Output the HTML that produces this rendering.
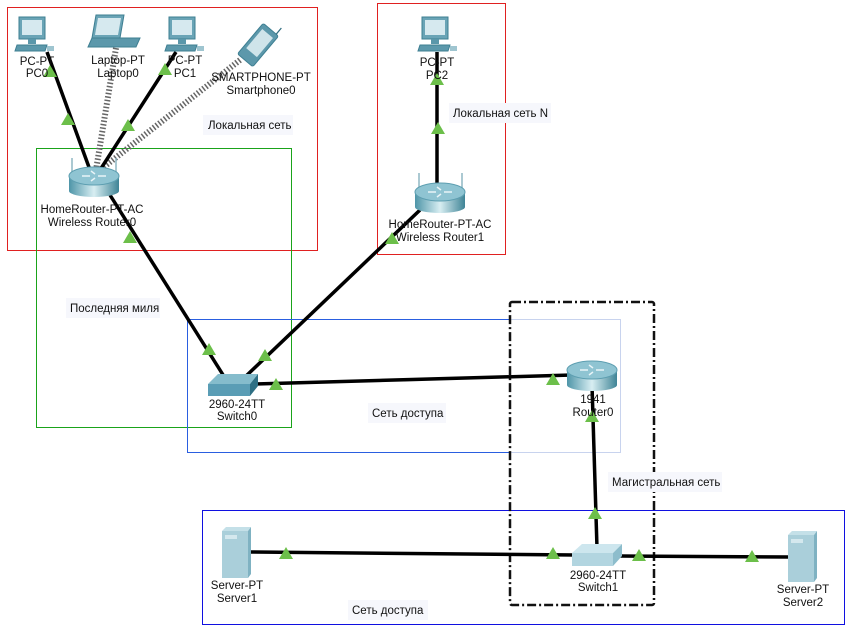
<!DOCTYPE html>
<html><head><meta charset="utf-8"><style>
html,body{margin:0;padding:0;background:#fff;}
svg{display:block;}
text{font-family:"Liberation Sans",sans-serif;font-size:11.5px;fill:#111;}
</style></head><body>
<svg width="851" height="636" viewBox="0 0 851 636" xmlns="http://www.w3.org/2000/svg">
<defs>
<linearGradient id="rg" x1="0" x2="1" y1="0" y2="0">
<stop offset="0" stop-color="#4e95a8"/><stop offset="0.5" stop-color="#d8eef2"/><stop offset="1" stop-color="#3f8496"/>
</linearGradient>
<g id="pc">
<rect x="4" y="0" width="26" height="22" fill="#6aa4b6" stroke="#3e7f92"/>
<rect x="7" y="3" width="20" height="15" fill="#d6e9ef"/>
<rect x="13" y="22" width="8" height="5" fill="#5b97aa"/>
<polygon points="2,28 32,28 30,34 0,34" fill="#5c98ab" stroke="#3e7f92"/>
<rect x="32" y="29" width="7" height="5" fill="#9fc5d0"/>
</g>
<g id="tri"><polygon points="0,-7 7,5 -7,5" fill="#6cbf4a"/></g>
<g id="rtr">
<rect x="-25" y="-6" width="50" height="15" fill="url(#rg)"/>
<ellipse cx="0" cy="9" rx="25" ry="6" fill="url(#rg)"/>
<ellipse cx="0" cy="-6" rx="25" ry="9" fill="#8fc4d2" stroke="#5e9fb1"/>
<path d="M-12,-6 h8 M4,-6 h8 M-3,-11 l4,3 M-3,-1 l4,-3" stroke="#e8f4f7" stroke-width="1.5"/>
</g>
</defs>

<rect x="7.5" y="7.5" width="310" height="243" fill="none" stroke="#e02020"/>
<rect x="377.5" y="3.5" width="128" height="251" fill="none" stroke="#e02020"/>
<rect x="36.5" y="148.5" width="255" height="279" fill="none" stroke="#1aa31a"/>
<path d="M510,319.5 H187.5 V452.5 H510" fill="none" stroke="#2a5ee0"/>
<path d="M510,319.5 H620.5 V452.5 H510" fill="none" stroke="#c8d3ee"/>
<rect x="202.5" y="510.5" width="642" height="114" fill="none" stroke="#1010e0"/>
<rect x="510" y="302" width="144" height="303" rx="2" fill="none" stroke="#111" stroke-width="2.5" stroke-dasharray="9,3,2,3"/>

<rect x="203" y="115" width="90" height="20" fill="#f6f7fc"/><text x="208" y="129">Локальная сеть</text>
<rect x="449" y="103" width="102" height="20" fill="#f6f7fc"/><text x="453" y="117">Локальная сеть N</text>
<rect x="66" y="298" width="94" height="20" fill="#f6f7fc"/><text x="70" y="312">Последняя миля</text>
<rect x="368" y="403" width="78" height="20" fill="#f6f7fc"/><text x="372" y="417">Сеть доступа</text>
<rect x="608" y="472" width="114" height="20" fill="#f6f7fc"/><text x="612" y="486">Магистральная сеть</text>
<rect x="348" y="600" width="80" height="20" fill="#f6f7fc"/><text x="352" y="614">Сеть доступа</text>

<line x1="116" y1="48" x2="96" y2="170" stroke="#666" stroke-width="6" stroke-dasharray="1.5,2"/>
<line x1="240" y1="60" x2="100" y2="170" stroke="#666" stroke-width="6" stroke-dasharray="1.5,2"/>

<g stroke="#000" stroke-width="3.5" fill="none">
<line x1="47" y1="52" x2="90" y2="170"/>
<line x1="176" y1="52" x2="100" y2="170"/>
<line x1="437" y1="52" x2="437" y2="185"/>
<line x1="110" y1="195" x2="225" y2="378"/>
<line x1="420" y1="210" x2="245" y2="377"/>
<line x1="255" y1="384" x2="572" y2="375"/>
<line x1="592" y1="385" x2="597" y2="548"/>
<line x1="250" y1="552" x2="575" y2="555"/>
<line x1="620" y1="556" x2="790" y2="557"/>
</g>

<use href="#pc" x="15" y="17"/>
<use href="#pc" x="165" y="17"/>
<use href="#pc" x="418" y="17"/>
<polygon points="96,15 124,15 120,38 92,38" fill="#6aa4b6" stroke="#3e7f92"/>
<polygon points="98,18 121,18 118,35 95,35" fill="#d6e9ef"/>
<polygon points="92,38 120,38 140,38 136,47 88,47" fill="#5c98ab" stroke="#3e7f92"/>
<g transform="translate(258,45) rotate(40)">
<rect x="-10" y="-20" width="20" height="40" rx="2" fill="#5c98ab" stroke="#3e7f92"/>
<rect x="-7" y="-15" width="14" height="25" fill="#cfe4ea"/>
<line x1="7" y1="-20" x2="7" y2="-28" stroke="#2f6d80" stroke-width="1.2"/>
</g>
<g stroke="#8fb7c2" stroke-width="1.5"><line x1="72" y1="158" x2="72" y2="175"/><line x1="116" y1="158" x2="116" y2="175"/>
<line x1="419" y1="173" x2="419" y2="190"/><line x1="462" y1="173" x2="462" y2="190"/></g>
<use href="#rtr" x="94" y="182"/>
<use href="#rtr" x="440" y="198"/>
<use href="#rtr" x="592" y="376"/>
<polygon points="208,384 218,374 258,374 250,384" fill="#85bccc"/>
<rect x="208" y="384" width="42" height="12" fill="#5a9db5"/>
<polygon points="250,384 258,374 258,386 250,396" fill="#2e6f84"/>
<polygon points="572,553 582,544 622,544 613,553" fill="#cde6ee"/>
<rect x="572" y="553" width="41" height="13" fill="#b2d5e0"/>
<polygon points="613,553 622,544 622,556 613,566" fill="#8dbdcc"/>
<g><rect x="222" y="531" width="26" height="47" fill="#aacfda"/><polygon points="222,531 226,527 251,527 248,531" fill="#c4e0e8"/><polygon points="248,531 251,527 251,574 248,578" fill="#7fb2c2"/><rect x="225" y="535" width="12" height="4" fill="#d4e8ee"/></g>
<g transform="translate(566,4)"><rect x="222" y="531" width="26" height="47" fill="#aacfda"/><polygon points="222,531 226,527 251,527 248,531" fill="#c4e0e8"/><polygon points="248,531 251,527 251,574 248,578" fill="#7fb2c2"/><rect x="225" y="535" width="12" height="4" fill="#d4e8ee"/></g>

<use href="#tri" x="50" y="72"/>
<use href="#tri" x="68" y="120"/>
<use href="#tri" x="128" y="126"/>
<use href="#tri" x="165" y="70"/>
<use href="#tri" x="130" y="238"/>
<use href="#tri" x="437" y="80"/>
<use href="#tri" x="438" y="129"/>
<use href="#tri" x="392" y="239"/>
<use href="#tri" x="209" y="350"/>
<use href="#tri" x="265" y="356"/>
<use href="#tri" x="276" y="385"/>
<use href="#tri" x="553" y="380"/>
<use href="#tri" x="592" y="417"/>
<use href="#tri" x="595" y="514"/>
<use href="#tri" x="286" y="554"/>
<use href="#tri" x="553" y="554"/>
<use href="#tri" x="639" y="556"/>
<use href="#tri" x="752" y="557"/>

<g text-anchor="middle">
<text x="37" y="65">PC-PT</text><text x="37" y="77">PC0</text>
<text x="118" y="64">Laptop-PT</text><text x="118" y="77">Laptop0</text>
<text x="185" y="64">PC-PT</text><text x="185" y="77">PC1</text>
<text x="261" y="81">SMARTPHONE-PT</text><text x="261" y="94">Smartphone0</text>
<text x="92" y="213">HomeRouter-PT-AC</text><text x="92" y="226">Wireless Router0</text>
<text x="437" y="66">PC-PT</text><text x="437" y="79">PC2</text>
<text x="440" y="228">HomeRouter-PT-AC</text><text x="440" y="241">Wireless Router1</text>
<text x="237" y="408">2960-24TT</text><text x="237" y="420">Switch0</text>
<text x="593" y="403">1941</text><text x="593" y="416">Router0</text>
<text x="598" y="579">2960-24TT</text><text x="598" y="591">Switch1</text>
<text x="237" y="589">Server-PT</text><text x="237" y="602">Server1</text>
<text x="803" y="593">Server-PT</text><text x="803" y="606">Server2</text>
</g>
</svg>
</body></html>
